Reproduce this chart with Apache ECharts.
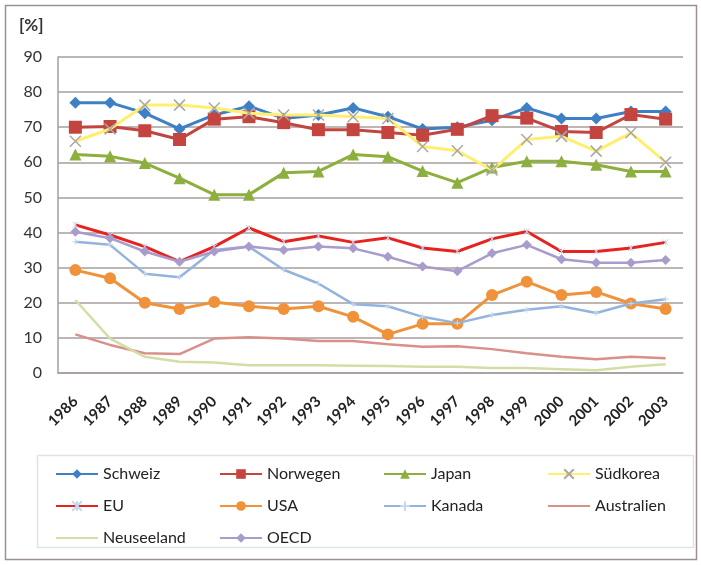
<!DOCTYPE html>
<html><head><meta charset="utf-8">
<script src="https://cdn.jsdelivr.net/npm/echarts@6/dist/echarts.min.js"></script>
<style>html,body{margin:0;padding:0;background:#fff}#c{width:701px;height:565px}</style>
</head><body><div id="c"></div>
<script>
const years = ['1986','1987','1988','1989','1990','1991','1992','1993','1994','1995','1996','1997','1998','1999','2000','2001','2002','2003'];
const yTicks = [0,10,20,30,40,50,60,70,80,90];
const schweiz    = [77,77,74,69.5,73.5,76,72.5,73.5,75.5,73,69.5,70,72,75.5,72.5,72.5,74.5,74.5];
const norwegen   = [70,70.2,69,66.5,72.3,73,71.3,69.3,69.3,68.5,67.7,69.4,73.3,72.6,68.8,68.5,73.6,72.3];
const japan      = [62.2,61.7,59.8,55.5,50.8,50.8,57,57.4,62.2,61.6,57.5,54.2,58.5,60.3,60.3,59.3,57.4,57.4];
const suedkorea  = [66,69.5,76.3,76.3,75.5,74,73.5,73.5,73,72.5,64.5,63.3,57.8,66.5,67.4,63.2,68.4,60];
const eu         = [42.2,39.3,36,31.7,36,41.3,37.4,39,37.2,38.5,35.6,34.6,38.2,40.3,34.6,34.6,35.6,37.2];
const usa        = [29.3,27,20,18.2,20.2,19,18.2,19,16,11,14,14,22.2,26,22.2,23.1,19.8,18.2];
const kanada     = [37.4,36.5,28.3,27.3,35,36,29.4,25.5,19.6,19,16,14.2,16.5,18,19,17.1,19.8,21];
const australien = [11,8,5.6,5.4,9.8,10.2,9.8,9.1,9.1,8.2,7.5,7.6,6.8,5.6,4.6,3.9,4.6,4.2];
const neuseeland = [20.8,9.8,4.6,3.2,3,2.2,2.2,2.2,2.1,2,1.8,1.8,1.4,1.4,1.1,0.8,1.8,2.5];
const oecd       = [40.2,38.4,34.6,31.7,34.6,36,35,36,35.5,33.1,30.3,29,34.1,36.5,32.4,31.4,31.4,32.2];

const FONT = 'Lato, "Open Sans", sans-serif';
const crossPath = 'path://M0,0L10,10M10,0L0,10';
const starPath = 'path://M0,0L10,10M10,0L0,10M5,0L5,10';
const plusPath = 'path://M5,0L5,10M0,5L10,5';

function mk(name, data, color, width, symbol, size, itemExtra, z) {
  return {
    name, type: 'line', data, z: z,
    symbol: symbol, symbolSize: size, showSymbol: symbol !== 'none',
    lineStyle: { color, width },
    itemStyle: Object.assign({ color }, itemExtra || {}),
    emphasis: { disabled: true }, animation: false
  };
}

const series = [
  mk('Schweiz', schweiz, '#3F7FC4', 3, 'diamond', 12, null, 2),
  mk('Norwegen', norwegen, '#C4453F', 3, 'rect', 13, null, 3),
  mk('Japan', japan, '#8CAF3E', 3, 'triangle', 12, null, 4),
  mk('Südkorea', suedkorea, '#FFEF6E', 3, crossPath, 11, { color: 'none', borderColor: '#A8A8A8', borderWidth: 1.5 }, 5),
  mk('EU', eu, '#E8231F', 3, starPath, 6, { color: 'none', borderColor: '#C4D8EE', borderWidth: 1 }, 6),
  mk('USA', usa, '#F0923A', 3, 'circle', 12, null, 7),
  mk('Kanada', kanada, '#93B4DC', 2.5, plusPath, 6, { color: 'none', borderColor: '#C4D8EE', borderWidth: 1 }, 8),
  mk('Australien', australien, '#D98F8A', 2.5, 'none', 0, null, 9),
  mk('Neuseeland', neuseeland, '#D3DEA6', 2.5, 'none', 0, null, 10),
  mk('OECD', oecd, '#A99BCB', 2.5, 'diamond', 10, null, 11)
];

const legendData = series.map(s => s.symbol === 'none'
  ? { name: s.name, itemStyle: { opacity: 0 } }
  : { name: s.name });

const chart = echarts.init(document.getElementById('c'), null, { renderer: 'canvas' });
chart.setOption({
  animation: false,
  backgroundColor: '#fff',
  textStyle: { fontFamily: FONT },
  title: { text: '[%]', left: 14, top: 12, textStyle: { fontFamily: FONT, fontSize: 17, fontWeight: 'bold', color: '#333' } },
  grid: { left: 58, right: 18, top: 57, bottom: 192, containLabel: false },
  xAxis: {
    type: 'category', data: years, boundaryGap: true,
    axisLine: { show: true, lineStyle: { color: '#A89C9C', width: 1.5 } },
    axisTick: { show: false },
    axisLabel: { rotate: 45, fontSize: 15, color: '#222', fontWeight: 'bold', margin: 26, interval: 0, fontFamily: FONT }
  },
  yAxis: {
    type: 'value', min: 0, max: 90, interval: 10,
    axisLine: { show: true, lineStyle: { color: '#A89C9C', width: 1.5 } },
    axisTick: { show: false },
    axisLabel: { fontSize: 16, color: '#333', margin: 16, fontFamily: FONT,
      formatter: v => yTicks.includes(v) ? String(v) : '' },
    splitLine: { show: true, lineStyle: { color: '#A89C9C', width: 1.5 } }
  },
  legend: {
    left: 55, top: 458, width: 700, padding: 0,
    orient: 'horizontal',
    itemWidth: 42, itemHeight: 12, itemGap: 0,
    textStyle: { fontFamily: FONT, fontSize: 16, color: '#222', width: 116, lineHeight: 32, padding: [0,0,0,0] },
    data: legendData
  },
  graphic: [
    { type: 'rect', shape: { x: 5.5, y: 5.5, width: 691, height: 554 }, style: { fill: 'none', stroke: '#9C9090', lineWidth: 1.5 }, z: -1 },
    { type: 'rect', shape: { x: 37.5, y: 455.5, width: 656, height: 92 }, style: { fill: 'none', stroke: '#E2E2E2', lineWidth: 1.5 }, z: -1 }
  ],
  series
});
</script></body></html>
